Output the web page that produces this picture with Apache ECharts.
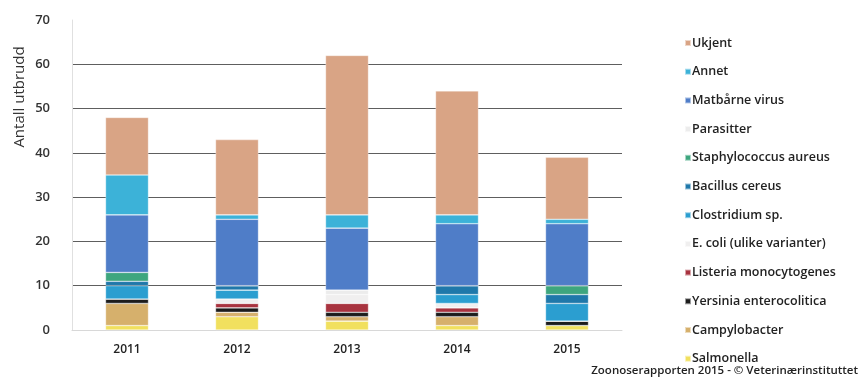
<!DOCTYPE html>
<html>
<head>
<meta charset="utf-8">
<script src="https://cdn.jsdelivr.net/npm/echarts@6/dist/echarts.min.js"></script>
<style>
  html, body { margin: 0; padding: 0; background: #ffffff; }
  #chart { width: 863px; height: 382px; }
</style>
</head>
<body>
<div id="chart"></div>
<script>
// Matbårne utbrudd per år, fordelt på agens (antall utbrudd)
var years = ['2011', '2012', '2013', '2014', '2015'];
var yTicks = [0, 10, 20, 30, 40, 50, 60, 70];

var salmonella    = [1, 3, 2, 1, 1];
var campylobacter = [5, 1, 1, 2, 0];
var yersinia      = [1, 1, 1, 1, 1];
var listeria      = [0, 1, 2, 1, 0];
var ecoli         = [0, 1, 2, 1, 0];
var clostridium   = [3, 2, 0, 2, 4];
var bacillus      = [1, 1, 0, 2, 2];
var staph         = [2, 0, 0, 0, 2];
var parasitter    = [0, 0, 1, 0, 0];
var virus         = [13, 15, 14, 14, 14];
var annet         = [9, 1, 3, 2, 1];
var ukjent        = [13, 17, 36, 28, 14];

// stacked bottom to top
var seriesDefs = [
  { name: 'Salmonella', data: salmonella, color: '#f1e05e' },
  { name: 'Campylobacter', data: campylobacter, color: '#d6b06c' },
  { name: 'Yersinia enterocolitica', data: yersinia, color: '#1c1c1c' },
  { name: 'Listeria monocytogenes', data: listeria, color: '#a8333f' },
  { name: 'E. coli (ulike varianter)', data: ecoli, color: '#f0efef' },
  { name: 'Clostridium sp.', data: clostridium, color: '#2b9ed0' },
  { name: 'Bacillus cereus', data: bacillus, color: '#1f78aa' },
  { name: 'Staphylococcus aureus', data: staph, color: '#3ea67e' },
  { name: 'Parasitter', data: parasitter, color: '#ececec' },
  { name: 'Matbårne virus', data: virus, color: '#4f7dc8' },
  { name: 'Annet', data: annet, color: '#3cb2d8' },
  { name: 'Ukjent', data: ukjent, color: '#d9a485' }
];

var gridColors = yTicks.map(function (v, i) {
  if (i === 0) return '#d8d8d8';
  if (i === yTicks.length - 1) return 'rgba(0,0,0,0)';
  return '#5e5e5e';
});

var chart = echarts.init(document.getElementById('chart'), null, { renderer: 'canvas' });

chart.setOption({
  backgroundColor: '#ffffff',
  animation: false,
  textStyle: { fontFamily: 'Open Sans' },
  grid: { left: 72, right: 241, top: 20, bottom: 52 },
  legend: {
    orient: 'vertical',
    left: 679,
    top: 31,
    itemWidth: 6,
    itemHeight: 6,
    itemGap: 14.7,
    icon: 'rect',
    data: seriesDefs.map(function (s) { return s.name; }).reverse(),
    textStyle: { fontSize: 12.5, fontWeight: 600, color: '#222', lineHeight: 14, padding: [0, 0, 0, -4] }
  },
  xAxis: {
    type: 'category',
    data: years,
    axisLine: { show: true, lineStyle: { color: '#d8d8d8' } },
    axisTick: { show: false },
    axisLabel: { fontSize: 12, color: '#222', margin: 14, fontWeight: 600 }
  },
  yAxis: {
    type: 'value',
    min: 0,
    max: 70,
    interval: 10,
    axisLine: { show: true, lineStyle: { color: '#e0e0e0' } },
    axisTick: { show: false },
    axisLabel: { fontSize: 13, color: '#333', margin: 22, fontWeight: 600 },
    splitLine: { show: true, lineStyle: { color: gridColors, width: 1 } }
  },
  graphic: [
    {
      type: 'text',
      x: 20,
      y: 97,
      rotation: Math.PI / 2,
      style: {
        text: 'Antall utbrudd',
        fontSize: 15,
        fontFamily: 'Open Sans',
        fill: '#333',
        align: 'center',
        verticalAlign: 'middle'
      }
    },
    {
      type: 'text',
      right: 5,
      top: 365,
      style: {
        text: 'Zoonoserapporten 2015 - © Veterinærinstituttet',
        fontSize: 11.5,
        fontWeight: 600,
        fontFamily: 'Open Sans',
        fill: '#222'
      }
    }
  ],
  series: seriesDefs.map(function (s) {
    return {
      name: s.name,
      type: 'bar',
      stack: 'utbrudd',
      barWidth: 43,
      data: s.data,
      itemStyle: {
        color: s.color,
        borderColor: 'rgba(255,255,255,0.55)',
        borderWidth: 0.6
      }
    };
  })
});
</script>
</body>
</html>
